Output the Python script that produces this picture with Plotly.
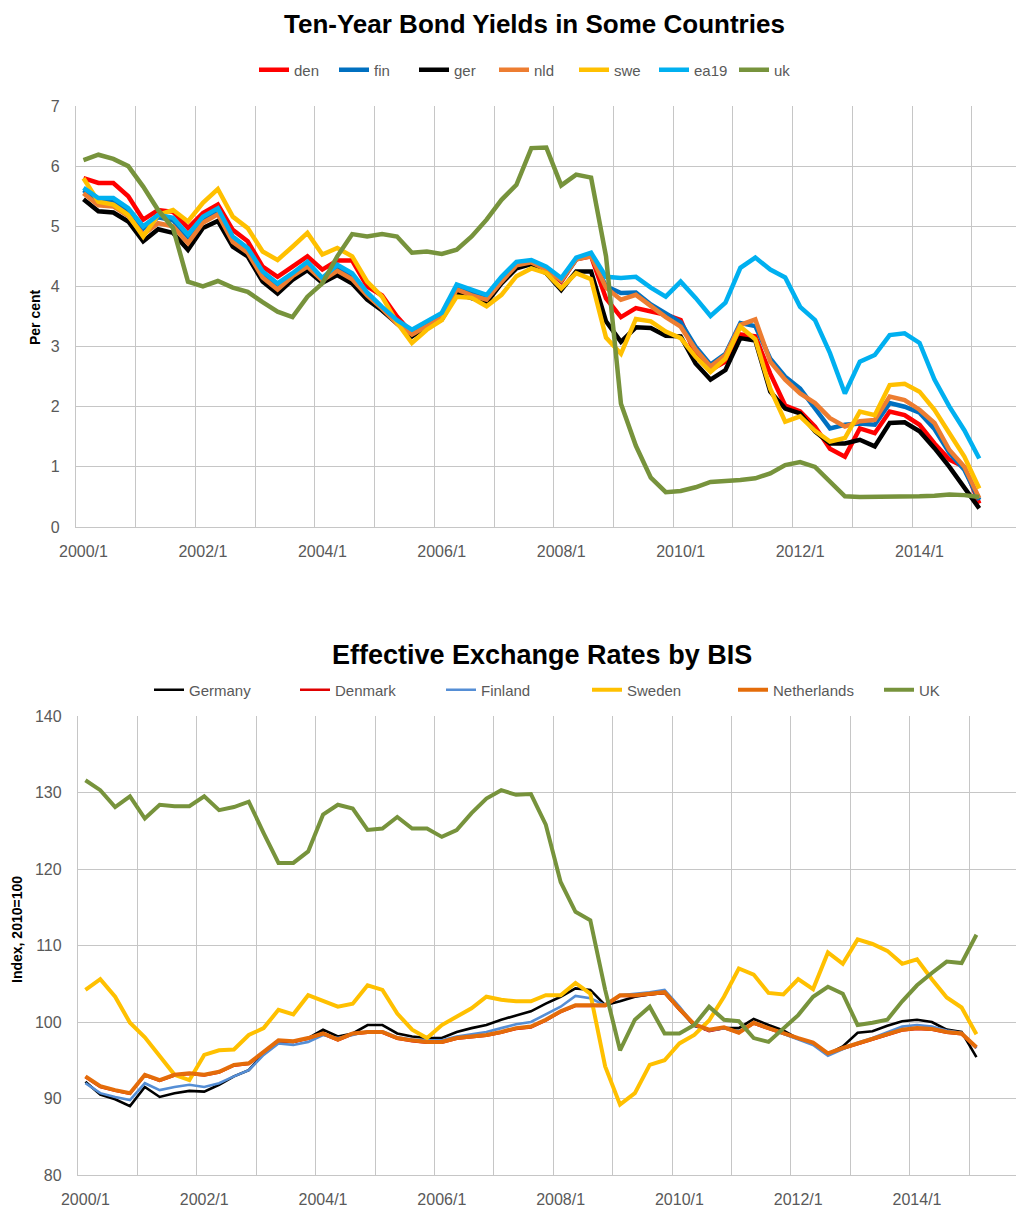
import plotly.graph_objects as go

# ---------------- data ----------------
quarters = [f"{y}/{q}" for y in range(2000, 2016) for q in range(1, 5)][:61]
tick_labels = ["2000/1", "2002/1", "2004/1", "2006/1", "2008/1", "2010/1", "2012/1", "2014/1"]

# Ten-year bond yields (per cent)
den = [5.80, 5.72, 5.72, 5.50, 5.11, 5.27, 5.24, 4.97, 5.22, 5.36, 4.94, 4.75, 4.33, 4.16, 4.33, 4.50, 4.28, 4.43, 4.43,
       4.00, 3.85, 3.50, 3.22, 3.35, 3.48, 3.92, 3.85, 3.75, 4.07, 4.35, 4.40, 4.28, 4.08, 4.45, 4.50, 3.80, 3.49, 3.64,
       3.58, 3.53, 3.44, 2.86, 2.61, 2.75, 3.20, 3.17, 2.55, 2.02, 1.92, 1.67, 1.30, 1.17, 1.64, 1.56, 1.92, 1.86, 1.70,
       1.39, 1.12, 1.00, 0.39]
fin = [5.60, 5.44, 5.43, 5.26, 4.96, 5.15, 5.10, 4.82, 5.12, 5.26, 4.79, 4.60, 4.21, 4.01, 4.18, 4.37, 4.10, 4.32, 4.18,
       3.86, 3.64, 3.41, 3.24, 3.38, 3.52, 3.98, 3.90, 3.82, 4.12, 4.38, 4.42, 4.30, 4.10, 4.45, 4.52, 4.00, 3.89, 3.90,
       3.70, 3.55, 3.40, 3.00, 2.70, 2.88, 3.39, 3.34, 2.80, 2.50, 2.30, 1.97, 1.64, 1.70, 1.72, 1.70, 2.06, 2.00, 1.90,
       1.63, 1.23, 0.95, 0.45]
ger = [5.45, 5.25, 5.23, 5.08, 4.75, 4.95, 4.89, 4.61, 4.97, 5.09, 4.66, 4.50, 4.08, 3.88, 4.11, 4.27, 4.06, 4.19, 4.05,
       3.78, 3.60, 3.38, 3.17, 3.33, 3.45, 3.88, 3.80, 3.73, 4.05, 4.30, 4.37, 4.22, 3.94, 4.25, 4.25, 3.42, 3.08, 3.32,
       3.31, 3.18, 3.17, 2.72, 2.45, 2.61, 3.14, 3.10, 2.25, 1.97, 1.89, 1.59, 1.39, 1.39, 1.45, 1.34, 1.73, 1.74, 1.59,
       1.31, 1.00, 0.67, 0.31]
nld = [5.55, 5.35, 5.33, 5.17, 4.86, 5.05, 5.00, 4.72, 5.06, 5.20, 4.74, 4.56, 4.15, 3.95, 4.17, 4.33, 4.10, 4.26, 4.12,
       3.85, 3.63, 3.38, 3.20, 3.35, 3.48, 3.95, 3.85, 3.78, 4.08, 4.35, 4.40, 4.28, 4.10, 4.45, 4.50, 3.98, 3.78, 3.86,
       3.67, 3.49, 3.33, 2.95, 2.67, 2.86, 3.36, 3.45, 2.75, 2.45, 2.22, 2.06, 1.81, 1.67, 1.76, 1.78, 2.17, 2.11, 1.95,
       1.73, 1.28, 1.00, 0.48]
swe = [5.80, 5.41, 5.36, 5.19, 4.83, 5.19, 5.27, 5.08, 5.39, 5.62, 5.16, 4.97, 4.58, 4.44, 4.66, 4.89, 4.53, 4.64, 4.50,
       4.08, 3.83, 3.40, 3.06, 3.28, 3.44, 3.83, 3.81, 3.67, 3.86, 4.17, 4.30, 4.22, 3.97, 4.22, 4.12, 3.15, 2.88, 3.46,
       3.42, 3.25, 3.14, 2.83, 2.58, 2.80, 3.33, 3.12, 2.30, 1.75, 1.84, 1.60, 1.42, 1.48, 1.92, 1.86, 2.36, 2.38, 2.25,
       1.95, 1.56, 1.17, 0.64]
ea19 = [5.64, 5.47, 5.47, 5.30, 5.00, 5.19, 5.14, 4.86, 5.16, 5.30, 4.83, 4.64, 4.25, 4.05, 4.22, 4.41, 4.14, 4.36, 4.22,
        3.90, 3.66, 3.44, 3.28, 3.41, 3.56, 4.03, 3.94, 3.86, 4.16, 4.41, 4.44, 4.33, 4.14, 4.48, 4.56, 4.16, 4.14, 4.16,
        3.98, 3.83, 4.08, 3.81, 3.51, 3.73, 4.31, 4.48, 4.28, 4.15, 3.66, 3.44, 2.89, 2.22, 2.75, 2.86, 3.19, 3.22, 3.06,
        2.45, 2.00, 1.61, 1.14]
uk = [6.10, 6.19, 6.12, 6.00, 5.66, 5.27, 4.97, 4.08, 4.00, 4.09, 3.98, 3.91, 3.74, 3.58, 3.49, 3.83, 4.05, 4.50, 4.87,
      4.83, 4.87, 4.83, 4.56, 4.58, 4.54, 4.61, 4.83, 5.11, 5.44, 5.69, 6.30, 6.31, 5.68, 5.86, 5.81, 4.50, 2.05, 1.35,
      0.82, 0.58, 0.60, 0.66, 0.75, 0.76, 0.78, 0.81, 0.89, 1.03, 1.08, 1.00, 0.75, 0.51, 0.50, 0.50, 0.50, 0.50, 0.51,
      0.52, 0.54, 0.53, 0.50]

# Effective exchange rates (index, 2010=100)
germany = [92.2, 90.5, 89.9, 89.0, 91.5, 90.2, 90.7, 91.0, 90.9, 91.8, 92.9, 93.7, 95.9, 97.4, 97.4, 97.9, 99.0, 98.1,
           98.5, 99.6, 99.6, 98.5, 98.1, 97.9, 97.9, 98.7, 99.2, 99.6, 100.3, 100.9, 101.4, 102.4, 103.3, 104.4, 104.2,
           102.2, 102.7, 103.3, 103.6, 103.8, 101.6, 99.5, 98.9, 99.2, 99.2, 100.4, 99.6, 98.9, 97.8, 97.2, 95.8, 96.8,
           98.6, 98.8, 99.5, 100.1, 100.3, 100.0, 99.0, 98.7, 95.4]
denmark = [92.8, 91.5, 91.0, 90.6, 93.0, 92.3, 93.0, 93.2, 93.0, 93.4, 94.3, 94.5, 96.0, 97.5, 97.4, 97.8, 98.4, 97.6,
           98.4, 98.6, 98.6, 97.8, 97.5, 97.3, 97.3, 97.8, 98.0, 98.2, 98.6, 99.1, 99.3, 100.2, 101.3, 102.1, 102.1,
           102.1, 103.4, 103.4, 103.6, 103.8, 101.6, 99.6, 98.8, 99.2, 98.6, 99.8, 99.1, 98.4, 97.8, 97.2, 95.8, 96.5,
           97.1, 97.6, 98.3, 98.9, 99.1, 99.0, 98.6, 98.4, 96.6]
finland = [92.0, 90.7, 90.2, 89.8, 92.0, 91.1, 91.5, 91.8, 91.5, 92.0, 92.9, 93.7, 95.7, 97.2, 97.0, 97.4, 98.3, 97.9,
           98.3, 98.8, 98.8, 98.0, 97.7, 97.6, 97.6, 98.1, 98.4, 98.7, 99.2, 99.7, 100.0, 101.0, 102.0, 103.4, 103.1,
           102.2, 103.5, 103.7, 103.9, 104.2, 102.0, 99.6, 98.9, 99.2, 98.7, 99.9, 99.2, 98.5, 97.7, 97.0, 95.6, 96.5,
           97.3, 97.9, 98.7, 99.4, 99.6, 99.4, 98.9, 98.6, 96.6]
sweden = [104.2, 105.6, 103.3, 99.9, 98.0, 95.5, 93.1, 92.4, 95.7, 96.3, 96.4, 98.3, 99.2, 101.6, 101.0, 103.5, 102.7,
          102.0, 102.4, 104.8, 104.2, 101.1, 99.0, 97.9, 99.6, 100.7, 101.8, 103.3, 102.9, 102.7, 102.7, 103.5, 103.5,
          105.1, 103.7, 94.2, 89.2, 90.7, 94.4, 95.0, 97.2, 98.3, 100.2, 103.3, 107.0, 106.2, 103.8, 103.6, 105.6, 104.3,
          109.1, 107.6, 110.8, 110.2, 109.3, 107.6, 108.2, 105.6, 103.2, 101.9, 98.4]
netherlands = [92.9, 91.6, 91.1, 90.7, 93.1, 92.4, 93.1, 93.3, 93.1, 93.5, 94.4, 94.6, 96.1, 97.6, 97.5, 97.9, 98.5,
               97.7, 98.5, 98.7, 98.7, 97.9, 97.6, 97.4, 97.4, 97.9, 98.1, 98.3, 98.7, 99.2, 99.4, 100.3, 101.4, 102.2,
               102.2, 102.2, 103.5, 103.5, 103.7, 103.9, 101.7, 99.7, 99.0, 99.3, 98.6, 99.9, 99.2, 98.5, 97.9, 97.3,
               95.9, 96.6, 97.2, 97.7, 98.4, 99.0, 99.2, 99.1, 98.7, 98.5, 96.7]
uk_eer = [131.6, 130.3, 128.1, 129.5, 126.6, 128.4, 128.2, 128.2, 129.5, 127.7, 128.1, 128.8, 124.7, 120.8, 120.8,
          122.3, 127.1, 128.4, 127.9, 125.1, 125.3, 126.8, 125.3, 125.3, 124.2, 125.1, 127.3, 129.2, 130.3, 129.7,
          129.8, 125.8, 118.3, 114.4, 113.3, 104.2, 96.3, 100.3, 102.0, 98.5, 98.5, 99.6, 102.0, 100.3, 100.1, 97.9,
          97.4, 99.2, 100.9, 103.3, 104.6, 103.7, 99.6, 99.9, 100.3, 102.7, 104.8, 106.4, 107.9, 107.7, 111.4]

# ---------------- figure ----------------
# the page body has an 8 px margin, so the figure is 8 px smaller and offset
OFF = 8
W, H = 1024 - OFF, 1208 - OFF
xidx = list(range(len(quarters)))
label_pos = [quarters.index(t) for t in tick_labels]
bounds = [i - 0.5 for i in range(0, 65, 4)]

FONT = "Liberation Sans, Arial, sans-serif"
GRID = "#C6C6C6"
TICKC = "#595959"

fig = go.Figure()

top_series = [("den", den, "#FF0000"), ("fin", fin, "#0070C0"), ("ger", ger, "#000000"),
              ("nld", nld, "#ED7D31"), ("swe", swe, "#FFC000"), ("ea19", ea19, "#00B0F0"),
              ("uk", uk, "#77933C")]
for name, vals, col in top_series:
    fig.add_trace(go.Scatter(x=xidx, y=vals, name=name, mode="lines", customdata=quarters,
                             line=dict(color=col, width=4.5), xaxis="x", yaxis="y", legend="legend",
                             hovertemplate="%{customdata}: %{y}<extra>" + name + "</extra>"))

bot_series = [("Germany", germany, "#000000", 2.6), ("Denmark", denmark, "#E00000", 2.6),
              ("Finland", finland, "#558ED5", 2.6), ("Sweden", sweden, "#FFC000", 4),
              ("Netherlands", netherlands, "#E46C0A", 4), ("UK", uk_eer, "#77933C", 4)]
for name, vals, col, w in bot_series:
    fig.add_trace(go.Scatter(x=xidx, y=vals, name=name, mode="lines", customdata=quarters,
                             line=dict(color=col, width=w), xaxis="x2", yaxis="y2", legend="legend2",
                             hovertemplate="%{customdata}: %{y}<extra>" + name + "</extra>"))


def px_x(p):
    return (p - OFF) / W


def px_y(p):
    return 1 - (p - OFF) / H


common_x = dict(tickmode="array", tickvals=label_pos, ticktext=tick_labels, showgrid=False,
                zeroline=False, showline=True, linecolor=GRID, linewidth=1.3, automargin=False,
                ticks="outside", ticklen=10, tickcolor="rgba(0,0,0,0)",
                tickfont=dict(family=FONT, size=16, color=TICKC),
                minor=dict(tickmode="array", tickvals=bounds, showgrid=True, gridcolor=GRID,
                           gridwidth=1.3, ticks=""))
common_y = dict(showgrid=True, gridcolor=GRID, gridwidth=1.3, zeroline=False, showline=True,
                linecolor=GRID, linewidth=1.3, ticks="outside", ticklen=12, automargin=False,
                tickcolor="rgba(0,0,0,0)", tickfont=dict(family=FONT, size=16, color=TICKC))

fig.update_layout(
    width=W, height=H, margin=dict(l=0, r=0, t=0, b=0, pad=0, autoexpand=False),
    paper_bgcolor="white", plot_bgcolor="white", showlegend=True,
    font=dict(family=FONT),
    xaxis=dict(domain=[px_x(76), 1], range=[-0.5, -0.5 + 948 / 14.93], anchor="y", **common_x),
    yaxis=dict(domain=[px_y(527), px_y(106)], range=[0, 7], dtick=1, anchor="x", **common_y),
    xaxis2=dict(domain=[px_x(78), 1], range=[-0.5, -0.5 + 946 / 14.85], anchor="y2", **common_x),
    yaxis2=dict(domain=[px_y(1175), px_y(716)], range=[80, 140], dtick=10, anchor="x2", **common_y),
    legend=dict(orientation="h", x=px_x(254), xanchor="left", y=px_y(70), yanchor="middle",
                font=dict(family=FONT, size=15, color=TICKC), itemwidth=30, entrywidth=35,
                tracegroupgap=0, bgcolor="rgba(0,0,0,0)"),
    legend2=dict(orientation="h", x=px_x(149), xanchor="left", y=px_y(690), yanchor="middle",
                 font=dict(family=FONT, size=15, color=TICKC), itemwidth=30, entrywidth=101,
                 tracegroupgap=0, bgcolor="rgba(0,0,0,0)"),
    annotations=[
        dict(text="<b>Ten-Year Bond Yields in Some Countries</b>", x=px_x(534), y=px_y(24),
             xref="paper", yref="paper", showarrow=False, xanchor="center", yanchor="middle",
             font=dict(family=FONT, size=26, color="black")),
        dict(text="<b>Effective Exchange Rates by BIS</b>", x=px_x(542), y=px_y(655),
             xref="paper", yref="paper", showarrow=False, xanchor="center", yanchor="middle",
             font=dict(family=FONT, size=27, color="black")),
        dict(text="<b>Per cent</b>", x=px_x(35), y=px_y(317), xref="paper", yref="paper",
             showarrow=False, textangle=-90, xanchor="center", yanchor="middle",
             font=dict(family=FONT, size=14, color="black")),
        dict(text="<b>Index, 2010=100</b>", x=px_x(17), y=px_y(930), xref="paper", yref="paper",
             showarrow=False, textangle=-90, xanchor="center", yanchor="middle",
             font=dict(family=FONT, size=14, color="black")),
    ],
)

fig.write_html("out.html")
